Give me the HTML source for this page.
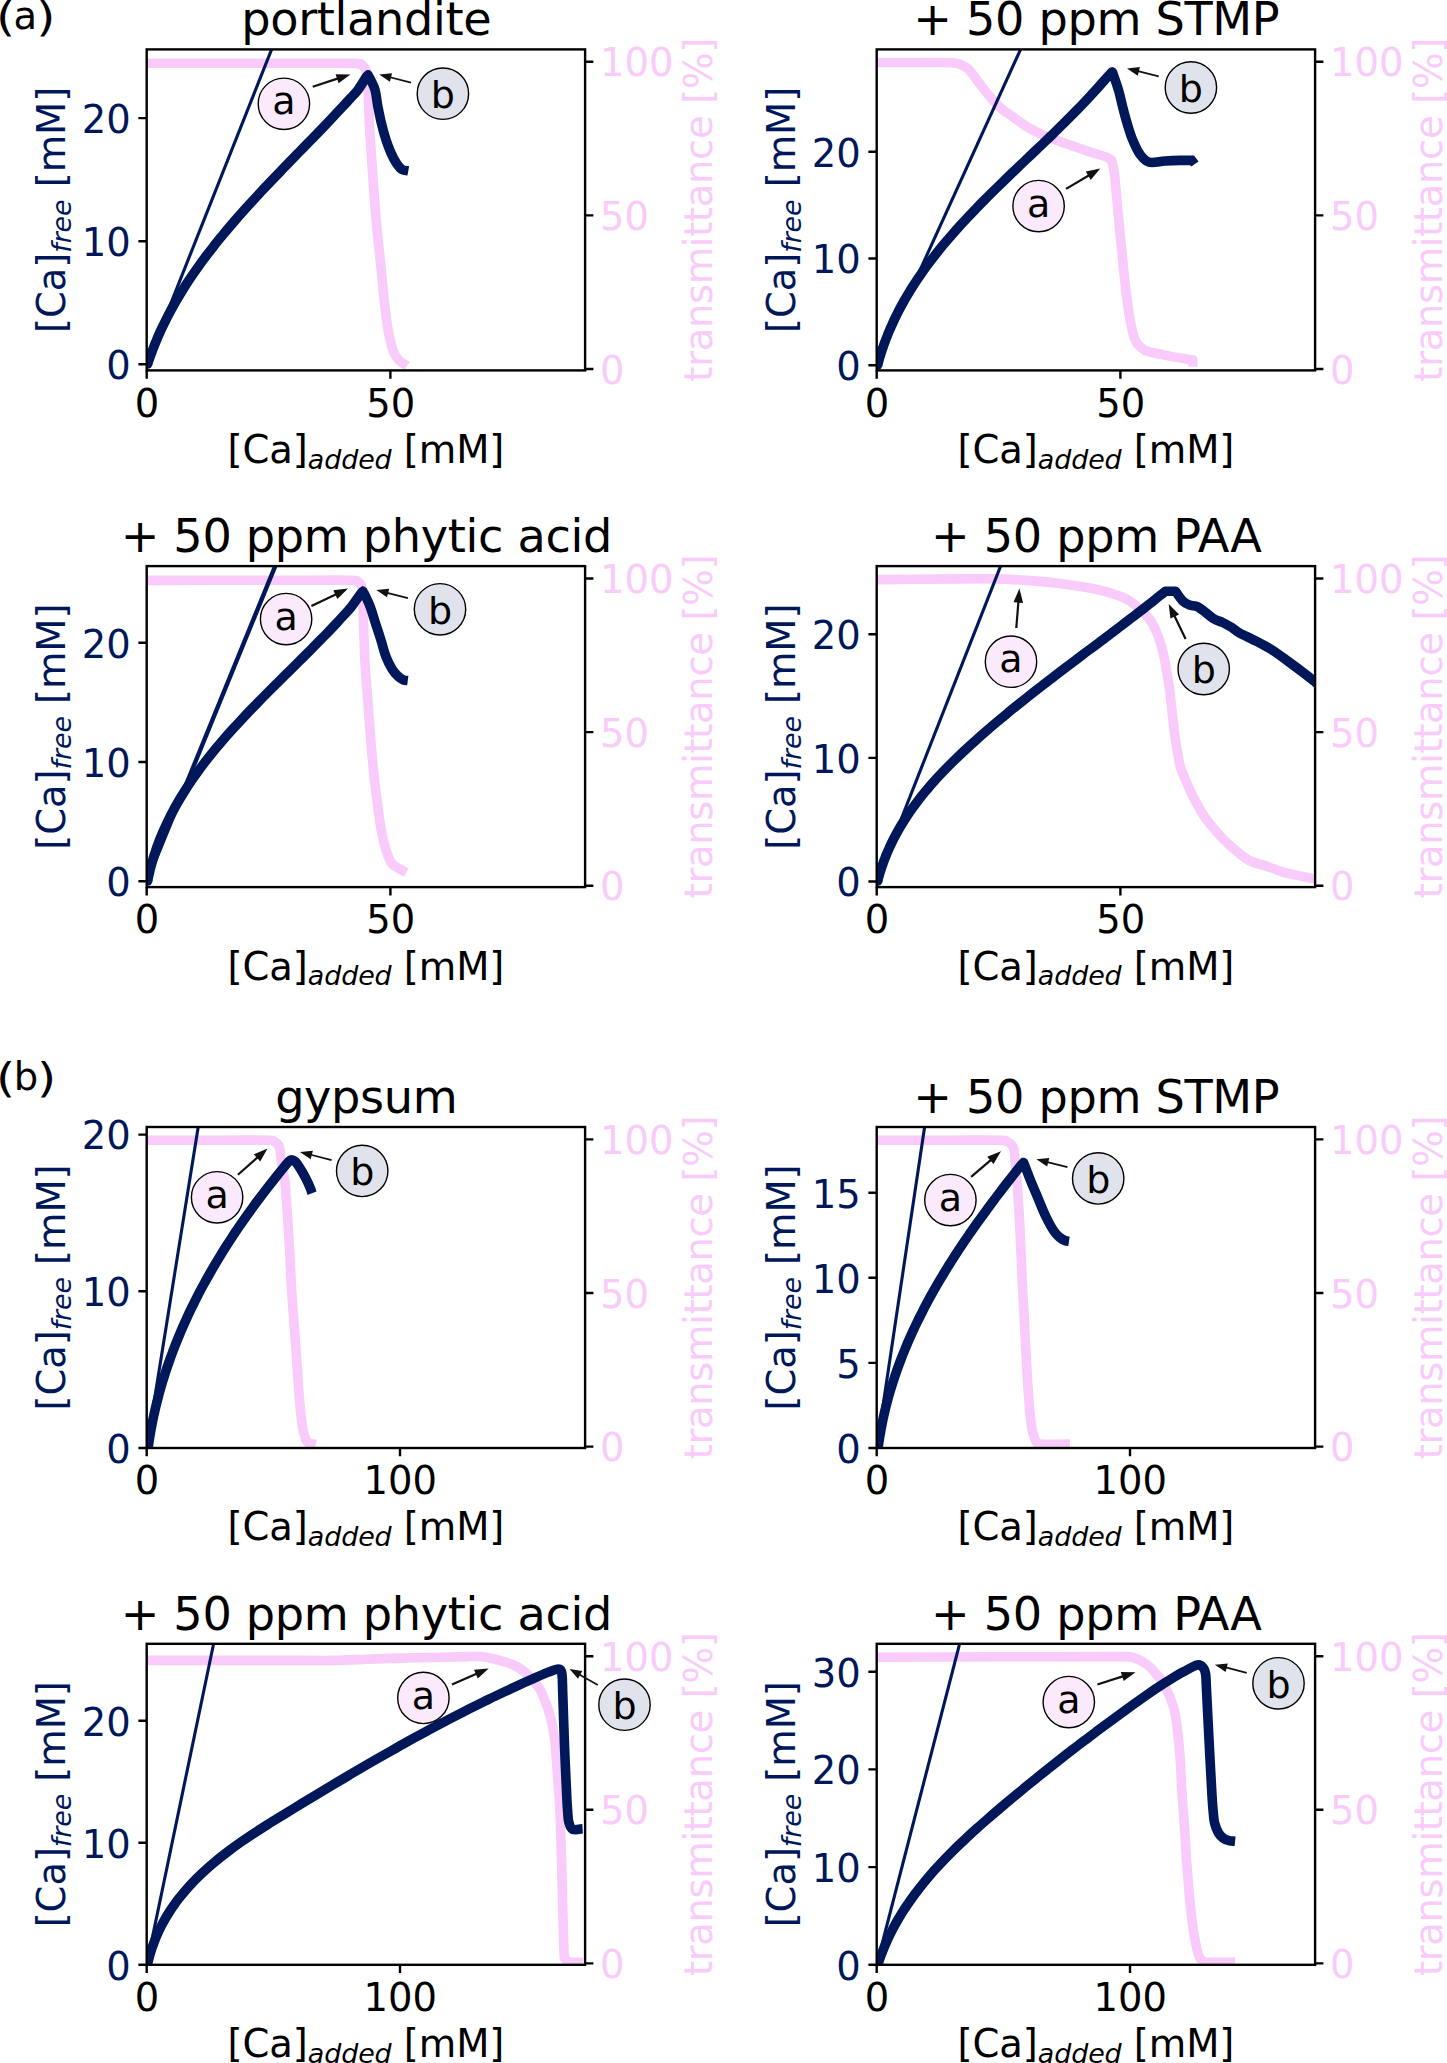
<!DOCTYPE html>
<html lang="en"><head><meta charset="utf-8"><title>Ca titration figure</title>
<style>html,body{margin:0;padding:0;background:#fff}svg{display:block}text{font-family:"DejaVu Sans","Liberation Sans",sans-serif}.t{font-size:46.2px;letter-spacing:-0.33px}.l{font-size:38.5px;letter-spacing:-0.33px}.k{font-size:38.5px}.m{font-size:38.5px;letter-spacing:-0.08px}</style></head><body>
<svg width="1447" height="2063" viewBox="0 0 1447 2063">
<rect width="1447" height="2063" fill="#fff"/>
<text transform="translate(-3.9 31.2) scale(1.19 1)" font-size="41.3">(</text><text x="13.6" y="29.2" class="k">a</text><text transform="translate(36.2 31.2) scale(1.19 1)" font-size="41.3">)</text>
<text transform="translate(-3.9 1092.3) scale(1.19 1)" font-size="41.3">(</text><text x="13.8" y="1089.9" class="k">b</text><text transform="translate(36.9 1092.3) scale(1.19 1)" font-size="41.3">)</text>
<g>
<clipPath id="c0"><rect x="146.7" y="49.4" width="438.4" height="321"/></clipPath>
<g clip-path="url(#c0)" fill="none" stroke-linejoin="round">
<path d="M146 63.2C171.7 63.2 265.3 63.2 300 63.2C334.7 63.2 343.8 63.1 354 63.4C364.2 63.7 359.5 63.9 361.5 65C363.5 66.1 365 67.5 366 70.2C367 73 367.1 72.7 367.7 81.5C368.2 90.3 368.7 110.5 369.3 122.9C369.9 135.3 370.6 143.2 371.5 156.1C372.4 168.9 373.5 187.2 374.5 200C375.5 212.8 376.3 222.1 377.4 233.2C378.5 244.2 379.8 255.2 380.9 266.3C382 277.4 383.1 289.8 384.1 299.5C385.2 309.2 386.1 317.5 387.2 324.4C388.2 331.3 389.3 336.3 390.4 341C391.5 345.7 392.5 349.4 393.9 352.6C395.3 355.8 396.6 357.9 398.8 360.1C401 362.3 405.7 364.9 407.1 365.9" stroke="#f9cbfa" stroke-width="9.6" stroke-linecap="butt"/>
<line x1="146.7" y1="364.3" x2="271.6" y2="49.4" stroke="#00185a" stroke-width="3.1"/>
<path d="M147.6 364C147.9 363.1 148.8 360.3 149.5 358.4C150.1 356.6 150.8 354.7 151.5 352.9C152.2 351.1 152.9 349.2 153.6 347.4C154.3 345.6 155 343.8 155.8 342C156.5 340.2 157.3 338.4 158 336.6C158.8 334.9 159.6 333.1 160.4 331.3C161.2 329.6 162 327.8 162.9 326.1C163.7 324.3 164.5 322.6 165.4 320.9C166.3 319.2 166.6 318.3 168 315.7C169.4 313.1 171.7 308.8 173.6 305.4C175.5 301.9 177.5 298.6 179.5 295.2C181.6 291.8 183.6 288.5 185.7 285.2C187.9 281.9 190 278.6 192.2 275.4C194.4 272.1 196.7 268.9 199 265.7C201.3 262.5 203.6 259.4 206 256.2C208.3 253.1 210.7 250 213.2 246.9C215.6 243.8 218.1 240.7 220.6 237.6C223.1 234.6 225.6 231.5 228.2 228.5C230.7 225.5 233.3 222.5 235.9 219.5C238.5 216.5 241.1 213.5 243.8 210.5C246.4 207.6 249.1 204.6 251.8 201.7C254.5 198.8 257.2 195.9 259.9 193C262.6 190 265.4 187.1 268.1 184.3C270.8 181.4 273.6 178.5 276.4 175.6C279.1 172.7 281.9 169.9 284.6 167C287.4 164.2 290.2 161.3 293 158.4C295.7 155.6 298.5 152.7 301.3 149.9C304.1 147.1 306.8 144.2 309.6 141.4C312.4 138.5 315.1 135.7 317.9 132.8C320.6 130 323.4 127.1 326.1 124.3C328.8 121.4 331.5 118.6 334.2 115.7C336.9 112.9 339.6 110 342.3 107.1C344.9 104.3 347.6 101.4 350.2 98.5C352.8 95.6 355.3 93.4 358 89.8C360.7 86.2 364.7 79.3 366.4 76.8C368.1 74.3 367.7 75.2 368 74.9C368.2 75.2 368 74.5 369.2 77C370.4 79.5 373.6 84.9 375 89.8C376.4 94.7 376.8 100.8 377.8 106.3C378.9 111.8 380 117.4 381.3 122.9C382.6 128.4 384.3 134.6 385.9 139.5C387.5 144.4 389.1 148.6 390.8 152.5C392.5 156.4 394.4 160.2 396.3 163C398.2 165.8 400 168.3 402 169.6C404 170.9 407.2 170.7 408.3 170.9" stroke="#00185a" stroke-width="9.6" stroke-linecap="butt"/>
<circle cx="147.6" cy="364" r="4.8" fill="#00185a" stroke="none"/>
</g>
<rect x="146.7" y="49.4" width="438.4" height="321" fill="none" stroke="#000" stroke-width="2.4"/>
<path d="M146.7 370.4v8.3M390.4 370.4v8.3M146.7 364.3h-8.3M146.7 241.2h-8.3M146.7 118.1h-8.3M585.1 61.8h8.3M585.1 215.4h8.3M585.1 369h8.3" stroke="#000" stroke-width="2.4" fill="none"/>
<text class="k" x="147" y="416.7" text-anchor="middle">0</text>
<text class="k" x="390.7" y="416.7" text-anchor="middle">50</text>
<text class="k" x="130.7" y="379.1" text-anchor="end" fill="#00185a">0</text>
<text class="k" x="130.7" y="256" text-anchor="end" fill="#00185a">10</text>
<text class="k" x="130.7" y="132.9" text-anchor="end" fill="#00185a">20</text>
<text class="k" x="599.9" y="76.3" fill="#f9cbfa">100</text>
<text class="k" x="599.9" y="229.9" fill="#f9cbfa">50</text>
<text class="k" x="599.9" y="383.5" fill="#f9cbfa">0</text>
<text class="t" x="366.3" y="35.2" text-anchor="middle">portlandite</text>
<text class="m" x="365.9" y="462.8" text-anchor="middle">[Ca]<tspan font-style="italic" font-size="26.9" dy="5.8">added</tspan><tspan dy="-5.8"> [mM]</tspan></text>
<text class="m" transform="translate(65.4 209.9) rotate(-90)" text-anchor="middle" fill="#00185a">[Ca]<tspan font-style="italic" font-size="26.9" dy="5.8">free</tspan><tspan dy="-5.8"> [mM]</tspan></text>
<text class="l" transform="translate(712.1 209.9) rotate(-90)" text-anchor="middle" fill="#f9cbfa">transmittance [%]</text>
<line x1="312.7" y1="86.8" x2="339" y2="78.1" stroke="#111" stroke-width="2.2"/><polygon points="350.4,74.4 338.6,83.3 335.6,74.2" fill="#111"/>
<circle cx="283.9" cy="103.8" r="25.7" fill="#fbe9fc" stroke="#000" stroke-width="1.4"/>
<text class="k" style="font-size:38px" x="283.9" y="114.4" text-anchor="middle">a</text>
<line x1="411" y1="82.7" x2="389.1" y2="77" stroke="#111" stroke-width="1.75"/><polygon points="379.2,74.4 392.1,73.2 389.9,81.7" fill="#111"/>
<circle cx="442.9" cy="93.7" r="25.7" fill="#e0e3eb" stroke="#000" stroke-width="1.4"/>
<text class="k" style="font-size:38px" x="442.9" y="108.1" text-anchor="middle">b</text>
</g>
<g>
<clipPath id="c1"><rect x="876.7" y="49.4" width="438.4" height="321"/></clipPath>
<g clip-path="url(#c1)" fill="none" stroke-linejoin="round">
<path d="M876 62.5C886.7 62.5 927 62.4 940 62.5C953 62.6 950.7 62.7 954 63C957.3 63.3 957.6 63.3 960 64.3C962.4 65.3 965.5 66.4 968.3 69C971.1 71.6 973.8 76.2 976.6 79.8C979.4 83.4 982.1 87.1 984.9 90.6C987.7 94 990.4 97.5 993.2 100.5C996 103.5 998.7 106.5 1001.5 108.8C1004.3 111.1 1005.7 111.7 1009.8 114.6C1013.9 117.5 1020.8 122.9 1026.3 126.3C1031.8 129.7 1037.4 132.4 1042.9 134.9C1048.4 137.4 1054 139.2 1059.5 141.2C1065 143.2 1070.6 145.1 1076.1 147C1081.6 148.9 1087.7 151.2 1092.7 152.8C1097.7 154.5 1102.8 155.7 1106 156.9C1109.2 158.2 1110.8 159.7 1111.8 160.3C1112.2 162.4 1113.6 167.9 1114.3 172.7C1115 177.5 1115.5 184.8 1115.9 189.3C1116.4 193.9 1116.3 192.7 1117 200C1117.7 207.3 1119 222.1 1120 233.2C1121 244.2 1122.1 255.2 1123.3 266.3C1124.5 277.4 1125.7 289.8 1127 299.5C1128.3 309.2 1129.6 317.5 1131 324.4C1132.4 331.3 1133.3 336.7 1135.6 341C1137.9 345.3 1139.9 347.8 1144.7 350.1C1149.5 352.5 1158.2 353.7 1164.6 355.1C1171 356.5 1178.2 357.6 1182.9 358.4C1187.6 359.2 1191.2 359.8 1192.8 360.1C1192.8 361.2 1192.7 365.5 1192.7 366.6" stroke="#f9cbfa" stroke-width="9.6" stroke-linecap="butt"/>
<line x1="876.7" y1="365.2" x2="1020.6" y2="49.4" stroke="#00185a" stroke-width="3.1"/>
<path d="M877.6 365C877.9 364 878.7 361.1 879.2 359.2C879.8 357.2 880.4 355.3 881 353.4C881.6 351.5 882.2 349.6 882.9 347.7C883.5 345.8 884.2 343.9 884.9 342.1C885.5 340.2 886.2 338.4 887 336.5C887.7 334.7 888.4 332.9 889.2 331C890 329.2 890.8 327.4 891.6 325.6C892.4 323.8 893.2 322.1 894 320.3C894.8 318.5 895.2 317.6 896.6 315C897.9 312.3 900.2 307.9 902.1 304.4C904 300.9 906 297.4 908.1 294C910.1 290.6 912.2 287.2 914.4 283.9C916.6 280.5 918.8 277.2 921.1 274C923.4 270.7 925.7 267.4 928.1 264.2C930.5 261 932.9 257.8 935.4 254.7C937.9 251.5 940.4 248.4 942.9 245.3C945.5 242.2 948.1 239.2 950.8 236.1C953.4 233.1 956.1 230 958.8 227C961.5 224 964.3 221.1 967 218.1C969.8 215.1 972.6 212.2 975.4 209.3C978.3 206.3 981.1 203.4 984 200.5C986.9 197.6 989.7 194.8 992.6 191.9C995.5 189 998.5 186.2 1001.4 183.3C1004.3 180.5 1007.3 177.6 1010.2 174.8C1013.1 172 1016.1 169.2 1019 166.3C1022 163.5 1025 160.7 1027.9 157.9C1030.9 155.1 1033.8 152.3 1036.7 149.5C1039.7 146.7 1042.6 143.9 1045.5 141.1C1048.5 138.3 1051.4 135.4 1054.3 132.6C1057.2 129.8 1060.1 127 1062.9 124.2C1065.8 121.3 1068.6 118.5 1071.4 115.7C1074.2 112.8 1077 110 1079.8 107.1C1082.6 104.3 1085.3 101.4 1088 98.5C1090.7 95.6 1092.3 93.9 1096 89.8C1099.7 85.7 1107.6 76.6 1110.3 73.7C1113 70.8 1112 72.4 1112.3 72.1C1112.5 72.5 1112.2 71.3 1113.2 74.3C1114.2 77.2 1116.9 84.5 1118.4 89.8C1120 95.1 1121.1 100.8 1122.5 106.3C1123.9 111.8 1125.3 117.4 1127 122.9C1128.7 128.4 1130.3 134.2 1132.5 139.5C1134.7 144.8 1137.2 150.6 1140 154.4C1142.8 158.2 1144.9 161.1 1149.1 162.2C1153.3 163.3 1159.8 161.3 1165 161C1170.2 160.7 1175.4 160.5 1180 160.4C1184.6 160.3 1190.7 160.4 1192.8 160.4" stroke="#00185a" stroke-width="9.6" stroke-linecap="butt"/>
<polygon points="1192.3,155.6 1194,155.4 1198.6,161.5 1191.2,166.6 1190.2,165.2" fill="#00185a"/>
<circle cx="877.6" cy="365" r="4.8" fill="#00185a" stroke="none"/>
</g>
<rect x="876.7" y="49.4" width="438.4" height="321" fill="none" stroke="#000" stroke-width="2.4"/>
<path d="M876.7 370.4v8.3M1120.4 370.4v8.3M876.7 365.2h-8.3M876.7 258.5h-8.3M876.7 151.8h-8.3M1315.1 61.8h8.3M1315.1 215.4h8.3M1315.1 369h8.3" stroke="#000" stroke-width="2.4" fill="none"/>
<text class="k" x="877" y="416.7" text-anchor="middle">0</text>
<text class="k" x="1120.7" y="416.7" text-anchor="middle">50</text>
<text class="k" x="860.7" y="380" text-anchor="end" fill="#00185a">0</text>
<text class="k" x="860.7" y="273.3" text-anchor="end" fill="#00185a">10</text>
<text class="k" x="860.7" y="166.6" text-anchor="end" fill="#00185a">20</text>
<text class="k" x="1329.9" y="76.3" fill="#f9cbfa">100</text>
<text class="k" x="1329.9" y="229.9" fill="#f9cbfa">50</text>
<text class="k" x="1329.9" y="383.5" fill="#f9cbfa">0</text>
<text class="t" x="1096.3" y="35.2" text-anchor="middle">+ 50 ppm STMP</text>
<text class="m" x="1095.9" y="462.8" text-anchor="middle">[Ca]<tspan font-style="italic" font-size="26.9" dy="5.8">added</tspan><tspan dy="-5.8"> [mM]</tspan></text>
<text class="m" transform="translate(795.4 209.9) rotate(-90)" text-anchor="middle" fill="#00185a">[Ca]<tspan font-style="italic" font-size="26.9" dy="5.8">free</tspan><tspan dy="-5.8"> [mM]</tspan></text>
<text class="l" transform="translate(1442.1 209.9) rotate(-90)" text-anchor="middle" fill="#f9cbfa">transmittance [%]</text>
<line x1="1066" y1="188.9" x2="1090" y2="174.7" stroke="#111" stroke-width="2.2"/><polygon points="1100.3,168.6 1090.7,179.9 1085.8,171.6" fill="#111"/>
<circle cx="1038.6" cy="206.1" r="25.7" fill="#fbe9fc" stroke="#000" stroke-width="1.4"/>
<text class="k" style="font-size:38px" x="1038.6" y="216.7" text-anchor="middle">a</text>
<line x1="1158.7" y1="76.3" x2="1136.9" y2="70.9" stroke="#111" stroke-width="1.75"/><polygon points="1127,68.5 1139.9,67.1 1137.8,75.7" fill="#111"/>
<circle cx="1190.9" cy="87.5" r="25.7" fill="#e0e3eb" stroke="#000" stroke-width="1.4"/>
<text class="k" style="font-size:38px" x="1190.9" y="101.9" text-anchor="middle">b</text>
</g>
<g>
<clipPath id="c2"><rect x="146.7" y="566.1" width="438.4" height="321"/></clipPath>
<g clip-path="url(#c2)" fill="none" stroke-linejoin="round">
<path d="M146 580.4C171.7 580.4 265.9 580.2 300 580.2C334.1 580.2 340.9 580 350.5 580.2C360.1 580.4 355.6 580.6 357.5 581.6C359.4 582.6 360.7 583.7 361.6 586.5C362.5 589.3 362.2 586.8 362.7 598.5C363.2 610.2 364 641.3 364.7 656.5C365.4 671.7 366.2 679.1 367 689.7C367.8 700.3 368.4 709.9 369.2 720C370 730.1 370.7 739.7 371.6 750.2C372.6 760.8 373.6 772.2 374.9 783.3C376.1 794.3 378 808.2 379.1 816.5C380.2 824.8 380.7 827.6 381.8 833.1C382.9 838.6 384.3 844.7 385.9 849.7C387.5 854.7 389.4 860 391.4 863C393.4 866 395.5 866.3 398 867.9C400.5 869.5 404.9 871.8 406.3 872.6" stroke="#f9cbfa" stroke-width="9.6" stroke-linecap="butt"/>
<line x1="146.7" y1="881.2" x2="275.2" y2="566.1" stroke="#00185a" stroke-width="4.4"/>
<path d="M147.6 881C147.8 880 148.4 877.1 148.8 875.2C149.3 873.3 149.7 871.3 150.2 869.4C150.7 867.5 151.2 865.6 151.7 863.8C152.2 861.9 152.8 860 153.3 858.1C153.9 856.3 154.5 854.4 155.1 852.6C155.7 850.8 156.3 848.9 156.9 847.1C157.6 845.3 158.3 843.5 158.9 841.7C159.6 839.9 160.3 838.1 161.1 836.4C161.8 834.6 162.1 833.7 163.3 831.1C164.5 828.4 166.5 824 168.2 820.5C169.9 817 171.6 813.6 173.5 810.1C175.3 806.7 177.2 803.4 179.2 800C181.1 796.7 183.2 793.4 185.3 790.1C187.4 786.8 189.5 783.6 191.7 780.4C193.9 777.1 196.2 774 198.5 770.8C200.8 767.7 203.1 764.5 205.5 761.4C207.9 758.4 210.3 755.3 212.8 752.2C215.3 749.2 217.8 746.2 220.4 743.2C222.9 740.2 225.5 737.2 228.1 734.2C230.8 731.3 233.4 728.3 236.1 725.4C238.8 722.5 241.5 719.6 244.2 716.7C246.9 713.8 249.7 710.9 252.4 708.1C255.2 705.2 258 702.4 260.8 699.5C263.6 696.7 266.4 693.8 269.2 691C272 688.2 274.8 685.4 277.7 682.6C280.5 679.8 283.3 677 286.1 674.2C289 671.4 291.8 668.6 294.6 665.8C297.4 663 300.2 660.3 303 657.5C305.8 654.7 308.6 651.9 311.4 649.1C314.2 646.3 317 643.5 319.7 640.7C322.4 637.9 325.2 635.1 327.9 632.3C330.6 629.5 333.2 626.7 335.9 623.9C338.5 621.1 341.2 618.2 343.7 615.4C346.3 612.5 348.5 610.5 351.4 606.8C354.3 603.1 359.3 595.7 361.2 593.1C363.1 590.5 362.7 591.6 363 591.3C363.2 591.6 363 590.8 364.2 593.4C365.4 596 368.3 601.8 370.2 606.8C372.1 611.8 373.7 617.8 375.5 623.3C377.3 628.8 379.2 634.4 380.9 639.9C382.6 645.4 384 651.5 385.9 656.5C387.8 661.5 390.4 666.4 392.5 669.8C394.6 673.1 396.5 674.9 398.3 676.6C400.1 678.3 401.6 679.1 403.2 679.8C404.8 680.5 407 680.5 407.8 680.6" stroke="#00185a" stroke-width="9.6" stroke-linecap="butt"/>
<circle cx="147.6" cy="881" r="4.8" fill="#00185a" stroke="none"/>
</g>
<rect x="146.7" y="566.1" width="438.4" height="321" fill="none" stroke="#000" stroke-width="2.4"/>
<path d="M146.7 887.1v8.3M390.4 887.1v8.3M146.7 881.2h-8.3M146.7 762h-8.3M146.7 642.8h-8.3M585.1 578.5h8.3M585.1 732.1h8.3M585.1 885.7h8.3" stroke="#000" stroke-width="2.4" fill="none"/>
<text class="k" x="147" y="933.4" text-anchor="middle">0</text>
<text class="k" x="390.7" y="933.4" text-anchor="middle">50</text>
<text class="k" x="130.7" y="896" text-anchor="end" fill="#00185a">0</text>
<text class="k" x="130.7" y="776.8" text-anchor="end" fill="#00185a">10</text>
<text class="k" x="130.7" y="657.6" text-anchor="end" fill="#00185a">20</text>
<text class="k" x="599.9" y="593" fill="#f9cbfa">100</text>
<text class="k" x="599.9" y="746.6" fill="#f9cbfa">50</text>
<text class="k" x="599.9" y="900.2" fill="#f9cbfa">0</text>
<text class="t" x="366.3" y="551.9" text-anchor="middle">+ 50 ppm phytic acid</text>
<text class="m" x="365.9" y="979.5" text-anchor="middle">[Ca]<tspan font-style="italic" font-size="26.9" dy="5.8">added</tspan><tspan dy="-5.8"> [mM]</tspan></text>
<text class="m" transform="translate(65.4 726.6) rotate(-90)" text-anchor="middle" fill="#00185a">[Ca]<tspan font-style="italic" font-size="26.9" dy="5.8">free</tspan><tspan dy="-5.8"> [mM]</tspan></text>
<text class="l" transform="translate(712.1 726.6) rotate(-90)" text-anchor="middle" fill="#f9cbfa">transmittance [%]</text>
<line x1="311.4" y1="606.1" x2="337.2" y2="593.8" stroke="#111" stroke-width="2.2"/><polygon points="348,588.6 337.4,599 333.3,590.3" fill="#111"/>
<circle cx="286.1" cy="619.1" r="25.7" fill="#fbe9fc" stroke="#000" stroke-width="1.4"/>
<text class="k" style="font-size:38px" x="286.1" y="629.7" text-anchor="middle">a</text>
<line x1="407.9" y1="598.2" x2="386.2" y2="592.6" stroke="#111" stroke-width="1.75"/><polygon points="376.3,590 389.2,588.8 387,597.3" fill="#111"/>
<circle cx="440" cy="609.3" r="25.7" fill="#e0e3eb" stroke="#000" stroke-width="1.4"/>
<text class="k" style="font-size:38px" x="440" y="623.7" text-anchor="middle">b</text>
</g>
<g>
<clipPath id="c3"><rect x="876.7" y="566.1" width="438.4" height="321"/></clipPath>
<g clip-path="url(#c3)" fill="none" stroke-linejoin="round">
<path d="M876 579.6C890 579.5 940.5 579 960 578.9C979.5 578.8 982.2 578.6 993.2 578.9C1004.2 579.1 1015.2 579.6 1026.3 580.4C1037.3 581.2 1048.4 582.1 1059.5 583.5C1070.6 584.9 1084.4 587 1092.7 588.5C1101 590 1103.8 591 1109.3 592.7C1114.8 594.4 1121.8 596.9 1125.9 598.8C1130.1 600.7 1131.4 602.1 1134.2 604.3C1137 606.4 1139.6 608.8 1142.5 611.7C1145.4 614.7 1148.7 617.3 1151.5 622C1154.3 626.7 1157.4 634.1 1159.5 639.9C1161.6 645.6 1162.7 651 1163.9 656.5C1165.2 662 1166 667.6 1167 673.1C1168 678.6 1168.8 684.2 1169.6 689.7C1170.3 695.2 1170.9 701.2 1171.5 706.3C1172.1 711.3 1172.5 715.5 1173 720C1173.5 724.5 1173.9 728.6 1174.6 733.6C1175.3 738.6 1176.1 744.7 1177.1 750.2C1178.1 755.7 1178.8 761.3 1180.4 766.8C1182.1 772.3 1184.6 777.8 1187 783.3C1189.4 788.8 1191.9 794.4 1194.8 799.9C1197.7 805.4 1200.6 811 1204.4 816.5C1208.2 822 1213.3 828.1 1217.7 833.1C1222.1 838.1 1225.8 841.8 1231 846.4C1236.2 851 1243.7 857.3 1249.2 860.5C1254.7 863.7 1259 863.6 1264.2 865.4C1269.5 867.2 1275.2 869.6 1280.7 871.3C1286.2 873 1290.8 874 1297.3 875.4C1303.8 876.8 1316.2 879.1 1320 879.8" stroke="#f9cbfa" stroke-width="9.6" stroke-linecap="butt"/>
<line x1="876.7" y1="881.5" x2="1000.6" y2="566.1" stroke="#00185a" stroke-width="3.1"/>
<path d="M877.6 881.2C877.9 880.1 878.8 876.6 879.5 874.3C880.1 872.1 880.8 869.8 881.6 867.6C882.3 865.4 883.1 863.2 883.9 861C884.7 858.8 885.6 856.7 886.4 854.5C887.3 852.4 888.2 850.3 889.2 848.2C890.1 846.1 891.1 844 892.1 842C893.1 839.9 894.1 837.9 895.2 835.9C896.3 833.9 897.4 831.9 898.5 829.9C899.6 827.9 900.1 826.9 902 824C903.8 821.1 906.9 816.2 909.5 812.3C912.2 808.5 914.9 804.8 917.7 801.1C920.5 797.4 923.5 793.7 926.5 790.2C929.4 786.6 932.5 783.1 935.7 779.6C938.8 776.1 942 772.7 945.3 769.4C948.6 766 951.9 762.7 955.3 759.4C958.7 756.1 962.1 752.8 965.6 749.6C969 746.4 972.6 743.2 976.1 740.1C979.6 736.9 983.2 733.8 986.8 730.7C990.3 727.6 993.9 724.5 997.6 721.4C1001.2 718.4 1004.9 715.4 1008.5 712.3C1012.2 709.3 1015.9 706.3 1019.6 703.4C1023.3 700.4 1027 697.5 1030.7 694.5C1034.5 691.6 1038.2 688.7 1042 685.8C1045.7 682.8 1049.5 680 1053.3 677.1C1057 674.2 1060.8 671.3 1064.6 668.4C1068.4 665.6 1072.2 662.7 1076 659.9C1079.7 657 1083.5 654.2 1087.3 651.3C1091.1 648.5 1094.9 645.6 1098.7 642.8C1102.4 640 1106.2 637.1 1110 634.3C1113.7 631.4 1117.5 628.6 1121.3 625.7C1125 622.9 1128.7 620 1132.5 617.2C1136.2 614.3 1139.9 611.5 1143.6 608.6C1147.3 605.7 1150.9 602.8 1154.6 599.9C1158.2 597 1163.7 592.7 1165.5 591.2C1167.2 591.2 1173.8 591.2 1175.5 591.2C1176.7 592.9 1180.6 598.9 1182.9 601.2C1185.2 603.5 1187 604.2 1189.5 605.1C1192 606 1195 605.5 1197.8 606.8C1200.6 608.1 1203.3 610.8 1206.1 612.9C1208.9 615 1211.6 617.6 1214.4 619.2C1217.2 620.8 1219.9 621.2 1222.7 622.5C1225.5 623.8 1228.2 625.3 1231 627C1233.8 628.7 1235.1 630.4 1239.3 632.8C1243.5 635.1 1250.4 638.2 1255.9 641.1C1261.4 644 1267 646.7 1272.5 650.2C1278 653.7 1283.5 658 1289 662C1294.5 666 1300.4 670.4 1305.6 674.4C1310.8 678.4 1317.6 683.9 1320 685.8" stroke="#00185a" stroke-width="9.6" stroke-linecap="butt"/>
<circle cx="877.6" cy="881.2" r="4.8" fill="#00185a" stroke="none"/>
</g>
<rect x="876.7" y="566.1" width="438.4" height="321" fill="none" stroke="#000" stroke-width="2.4"/>
<path d="M876.7 887.1v8.3M1120.4 887.1v8.3M876.7 881.5h-8.3M876.7 757.9h-8.3M876.7 634.3h-8.3M1315.1 578.5h8.3M1315.1 732.1h8.3M1315.1 885.7h8.3" stroke="#000" stroke-width="2.4" fill="none"/>
<text class="k" x="877" y="933.4" text-anchor="middle">0</text>
<text class="k" x="1120.7" y="933.4" text-anchor="middle">50</text>
<text class="k" x="860.7" y="896.3" text-anchor="end" fill="#00185a">0</text>
<text class="k" x="860.7" y="772.7" text-anchor="end" fill="#00185a">10</text>
<text class="k" x="860.7" y="649.1" text-anchor="end" fill="#00185a">20</text>
<text class="k" x="1329.9" y="593" fill="#f9cbfa">100</text>
<text class="k" x="1329.9" y="746.6" fill="#f9cbfa">50</text>
<text class="k" x="1329.9" y="900.2" fill="#f9cbfa">0</text>
<text class="t" x="1096.3" y="551.9" text-anchor="middle">+ 50 ppm PAA</text>
<text class="m" x="1095.9" y="979.5" text-anchor="middle">[Ca]<tspan font-style="italic" font-size="26.9" dy="5.8">added</tspan><tspan dy="-5.8"> [mM]</tspan></text>
<text class="m" transform="translate(795.4 726.6) rotate(-90)" text-anchor="middle" fill="#00185a">[Ca]<tspan font-style="italic" font-size="26.9" dy="5.8">free</tspan><tspan dy="-5.8"> [mM]</tspan></text>
<text class="l" transform="translate(1442.1 726.6) rotate(-90)" text-anchor="middle" fill="#f9cbfa">transmittance [%]</text>
<line x1="1016.3" y1="628" x2="1018.5" y2="600.6" stroke="#111" stroke-width="2.2"/><polygon points="1019.4,588.6 1023.1,602.9 1013.5,602.2" fill="#111"/>
<circle cx="1011" cy="661.7" r="25.7" fill="#fbe9fc" stroke="#000" stroke-width="1.4"/>
<text class="k" style="font-size:38px" x="1011" y="672.3" text-anchor="middle">a</text>
<line x1="1185.6" y1="639" x2="1173.9" y2="614.7" stroke="#111" stroke-width="2.2"/><polygon points="1168.7,603.9 1179.1,614.4 1170.4,618.6" fill="#111"/>
<circle cx="1203.7" cy="669" r="25.7" fill="#e0e3eb" stroke="#000" stroke-width="1.4"/>
<text class="k" style="font-size:38px" x="1203.7" y="683.4" text-anchor="middle">b</text>
</g>
<g>
<clipPath id="c4"><rect x="146.7" y="1127" width="438.4" height="321"/></clipPath>
<g clip-path="url(#c4)" fill="none" stroke-linejoin="round">
<path d="M146 1140.2C158.3 1140.2 200 1140.2 220 1140.2C240 1140.2 256.9 1140 266 1140.2C275.1 1140.4 272.3 1140.5 274.5 1141.6C276.7 1142.7 278.2 1144.1 279.3 1146.9C280.4 1149.7 280.4 1154.4 281 1158.5C281.6 1162.6 282.3 1167.6 283 1171.7C283.7 1175.8 284.4 1175.8 285.1 1183.3C285.9 1190.8 286.8 1205.4 287.5 1216.5C288.2 1227.6 289 1238.7 289.6 1249.7C290.2 1260.7 290.6 1271.6 291.2 1282.5C291.8 1293.4 292.6 1304.2 293.4 1315.2C294.2 1326.2 295.1 1337.2 295.9 1348.3C296.7 1359.3 297.3 1370.4 298.1 1381.5C298.9 1392.6 300 1406.4 300.9 1414.7C301.8 1423 302.3 1426.7 303.4 1431.3C304.5 1435.9 305.4 1439.9 307.5 1442.1C309.6 1444.2 314.4 1443.8 315.8 1444.2" stroke="#f9cbfa" stroke-width="9.6" stroke-linecap="butt"/>
<line x1="146.7" y1="1448" x2="198.2" y2="1127" stroke="#00185a" stroke-width="3.1"/>
<path d="M147.6 1452C147.7 1451.1 148.1 1448.4 148.3 1446.7C148.5 1444.9 148.8 1443.1 149.1 1441.3C149.3 1439.5 149.6 1437.8 149.9 1436C150.2 1434.2 150.5 1432.5 150.8 1430.7C151.1 1429 151.4 1427.2 151.8 1425.4C152.1 1423.7 152.5 1421.9 152.8 1420.2C153.2 1418.4 153.5 1416.7 153.9 1415C154.3 1413.2 154.7 1411.5 155.1 1409.7C155.5 1408 155.7 1407.2 156.3 1404.5C157 1401.9 158.1 1397.5 159 1394C160 1390.5 161 1387 162 1383.5C163 1380.1 164.1 1376.6 165.2 1373.2C166.3 1369.7 167.5 1366.3 168.7 1362.9C169.9 1359.4 171.1 1356 172.4 1352.6C173.6 1349.2 175 1345.9 176.3 1342.5C177.6 1339.1 179 1335.8 180.4 1332.5C181.8 1329.1 183.3 1325.8 184.8 1322.5C186.3 1319.2 187.8 1315.9 189.3 1312.6C190.9 1309.3 192.5 1306.1 194.1 1302.8C195.7 1299.6 197.4 1296.3 199 1293.1C200.7 1289.9 202.4 1286.7 204.2 1283.5C205.9 1280.3 207.7 1277.1 209.5 1274C211.3 1270.8 213.1 1267.7 215 1264.5C216.8 1261.4 218.7 1258.3 220.6 1255.2C222.5 1252.1 224.4 1249 226.4 1245.9C228.3 1242.9 230.3 1239.8 232.3 1236.8C234.3 1233.7 236.4 1230.7 238.4 1227.7C240.5 1224.7 242.5 1221.7 244.6 1218.7C246.7 1215.7 248.8 1212.8 251 1209.8C253.1 1206.9 255.2 1203.9 257.4 1201C259.6 1198.1 261.8 1195.2 264 1192.3C266.2 1189.4 268.4 1186.6 270.7 1183.7C272.9 1180.9 275.2 1178 277.4 1175.2C279.7 1172.4 282.5 1169 284.3 1166.8C286.1 1164.6 287.2 1163.1 288.4 1161.9C289.6 1160.7 290.3 1159.8 291.4 1159.8C292.5 1159.8 293.9 1160.4 295.2 1161.6C296.5 1162.8 297.4 1164 299.2 1166.8C301 1169.6 304 1174.8 305.9 1178.4C307.8 1182 309.4 1185.9 310.4 1188.4C311.4 1190.9 311.7 1192.4 312 1193.2" stroke="#00185a" stroke-width="9.6" stroke-linecap="butt"/>
<circle cx="147.6" cy="1452" r="4.8" fill="#00185a" stroke="none"/>
</g>
<rect x="146.7" y="1127" width="438.4" height="321" fill="none" stroke="#000" stroke-width="2.4"/>
<path d="M146.7 1448v8.3M400 1448v8.3M146.7 1448h-8.3M146.7 1291.3h-8.3M146.7 1134.6h-8.3M585.1 1139.4h8.3M585.1 1293h8.3M585.1 1446.6h8.3" stroke="#000" stroke-width="2.4" fill="none"/>
<text class="k" x="147" y="1494.3" text-anchor="middle">0</text>
<text class="k" x="400.3" y="1494.3" text-anchor="middle">100</text>
<text class="k" x="130.7" y="1462.8" text-anchor="end" fill="#00185a">0</text>
<text class="k" x="130.7" y="1306.1" text-anchor="end" fill="#00185a">10</text>
<text class="k" x="130.7" y="1149.4" text-anchor="end" fill="#00185a">20</text>
<text class="k" x="599.9" y="1153.9" fill="#f9cbfa">100</text>
<text class="k" x="599.9" y="1307.5" fill="#f9cbfa">50</text>
<text class="k" x="599.9" y="1461.1" fill="#f9cbfa">0</text>
<text class="t" x="366.3" y="1112.8" text-anchor="middle">gypsum</text>
<text class="m" x="365.9" y="1540.4" text-anchor="middle">[Ca]<tspan font-style="italic" font-size="26.9" dy="5.8">added</tspan><tspan dy="-5.8"> [mM]</tspan></text>
<text class="m" transform="translate(65.4 1287.5) rotate(-90)" text-anchor="middle" fill="#00185a">[Ca]<tspan font-style="italic" font-size="26.9" dy="5.8">free</tspan><tspan dy="-5.8"> [mM]</tspan></text>
<text class="l" transform="translate(712.1 1287.5) rotate(-90)" text-anchor="middle" fill="#f9cbfa">transmittance [%]</text>
<line x1="237.9" y1="1174.7" x2="258.5" y2="1156.5" stroke="#111" stroke-width="2.2"/><polygon points="267.5,1148.6 260.2,1161.5 253.8,1154.3" fill="#111"/>
<circle cx="217.1" cy="1197.3" r="25.7" fill="#fbe9fc" stroke="#000" stroke-width="1.4"/>
<text class="k" style="font-size:38px" x="217.1" y="1207.9" text-anchor="middle">a</text>
<line x1="331.6" y1="1160.2" x2="309.9" y2="1154.5" stroke="#111" stroke-width="1.75"/><polygon points="300,1151.9 312.9,1150.7 310.7,1159.3" fill="#111"/>
<circle cx="362.2" cy="1170.9" r="25.7" fill="#e0e3eb" stroke="#000" stroke-width="1.4"/>
<text class="k" style="font-size:38px" x="362.2" y="1185.3" text-anchor="middle">b</text>
</g>
<g>
<clipPath id="c5"><rect x="876.7" y="1127" width="438.4" height="321"/></clipPath>
<g clip-path="url(#c5)" fill="none" stroke-linejoin="round">
<path d="M876 1140.2C888.3 1140.2 929.5 1140.2 950 1140.2C970.5 1140.2 989.4 1139.9 999 1140.2C1008.6 1140.5 1005.3 1140.7 1007.7 1141.9C1010.1 1143.2 1012.3 1144.7 1013.5 1147.7C1014.7 1150.7 1014.5 1154.2 1015.1 1160.1C1015.7 1166 1016.4 1173.9 1017.1 1183.3C1017.8 1192.7 1018.7 1205.4 1019.3 1216.5C1019.9 1227.6 1020.4 1238.7 1020.9 1249.7C1021.4 1260.7 1021.8 1271.6 1022.3 1282.5C1022.8 1293.4 1023.5 1304.2 1024.1 1315.2C1024.7 1326.2 1025.1 1337.2 1025.7 1348.3C1026.3 1359.3 1026.9 1370.4 1027.6 1381.5C1028.3 1392.6 1029.3 1406.4 1030.1 1414.7C1030.9 1423 1031.5 1426.9 1032.5 1431.3C1033.5 1435.7 1034.4 1439.1 1035.9 1441.2C1037.4 1443.3 1035.8 1443.5 1041.5 1444C1047.2 1444.5 1065.2 1444 1069.9 1444" stroke="#f9cbfa" stroke-width="9.6" stroke-linecap="butt"/>
<line x1="876.7" y1="1448" x2="924.6" y2="1127" stroke="#00185a" stroke-width="3.1"/>
<path d="M877.6 1452C877.7 1451.2 878 1448.6 878.2 1446.9C878.5 1445.2 878.7 1443.6 878.9 1441.9C879.2 1440.2 879.4 1438.5 879.7 1436.9C880 1435.2 880.3 1433.5 880.6 1431.9C880.8 1430.2 881.2 1428.5 881.5 1426.9C881.8 1425.2 882.1 1423.6 882.5 1421.9C882.8 1420.3 883.1 1418.6 883.5 1417C883.9 1415.4 884.2 1413.7 884.6 1412.1C885 1410.4 885.2 1409.7 885.8 1407.2C886.4 1404.7 887.5 1400.6 888.4 1397.3C889.3 1394 890.3 1390.7 891.3 1387.4C892.3 1384.2 893.3 1380.9 894.4 1377.7C895.4 1374.5 896.6 1371.3 897.7 1368.1C898.9 1364.9 900.1 1361.7 901.3 1358.5C902.5 1355.3 903.8 1352.1 905.1 1349C906.4 1345.9 907.7 1342.7 909.1 1339.6C910.5 1336.5 911.9 1333.4 913.3 1330.3C914.7 1327.2 916.2 1324.1 917.7 1321C919.2 1318 920.7 1314.9 922.3 1311.9C923.8 1308.8 925.4 1305.8 927 1302.8C928.6 1299.8 930.3 1296.8 931.9 1293.8C933.6 1290.8 935.3 1287.8 937 1284.9C938.7 1281.9 940.5 1278.9 942.3 1276C944 1273.1 945.8 1270.1 947.6 1267.2C949.4 1264.3 951.3 1261.4 953.1 1258.5C955 1255.6 956.8 1252.8 958.7 1249.9C960.6 1247 962.5 1244.2 964.4 1241.3C966.4 1238.5 968.3 1235.7 970.3 1232.8C972.2 1230 974.2 1227.2 976.2 1224.4C978.2 1221.6 980.2 1218.8 982.2 1216.1C984.2 1213.3 986.2 1210.5 988.2 1207.8C990.3 1205 992.3 1202.3 994.4 1199.5C996.4 1196.8 998.5 1194.1 1000.6 1191.4C1002.6 1188.7 1003.3 1187.8 1006.8 1183.3C1010.3 1178.8 1018.8 1167.9 1021.6 1164.5C1024.4 1161.1 1023.1 1163 1023.4 1162.7C1023.6 1163.1 1023.1 1161.5 1024.5 1164.9C1025.9 1168.3 1029.3 1177.5 1031.7 1183.3C1034.1 1189.1 1036.4 1194.4 1038.7 1199.9C1041 1205.4 1043.2 1211.2 1045.8 1216.5C1048.4 1221.8 1051.7 1227.9 1054.1 1231.4C1056.5 1235 1058.4 1236.3 1060.2 1237.8C1062 1239.3 1063.3 1239.9 1064.8 1240.5C1066.3 1241.1 1068.3 1241.2 1069 1241.3" stroke="#00185a" stroke-width="9.6" stroke-linecap="butt"/>
<circle cx="877.6" cy="1452" r="4.8" fill="#00185a" stroke="none"/>
</g>
<rect x="876.7" y="1127" width="438.4" height="321" fill="none" stroke="#000" stroke-width="2.4"/>
<path d="M876.7 1448v8.3M1130 1448v8.3M876.7 1448h-8.3M876.7 1362.9h-8.3M876.7 1277.8h-8.3M876.7 1192.7h-8.3M1315.1 1139.4h8.3M1315.1 1293h8.3M1315.1 1446.6h8.3" stroke="#000" stroke-width="2.4" fill="none"/>
<text class="k" x="877" y="1494.3" text-anchor="middle">0</text>
<text class="k" x="1130.3" y="1494.3" text-anchor="middle">100</text>
<text class="k" x="860.7" y="1462.8" text-anchor="end" fill="#00185a">0</text>
<text class="k" x="860.7" y="1377.7" text-anchor="end" fill="#00185a">5</text>
<text class="k" x="860.7" y="1292.6" text-anchor="end" fill="#00185a">10</text>
<text class="k" x="860.7" y="1207.5" text-anchor="end" fill="#00185a">15</text>
<text class="k" x="1329.9" y="1153.9" fill="#f9cbfa">100</text>
<text class="k" x="1329.9" y="1307.5" fill="#f9cbfa">50</text>
<text class="k" x="1329.9" y="1461.1" fill="#f9cbfa">0</text>
<text class="t" x="1096.3" y="1112.8" text-anchor="middle">+ 50 ppm STMP</text>
<text class="m" x="1095.9" y="1540.4" text-anchor="middle">[Ca]<tspan font-style="italic" font-size="26.9" dy="5.8">added</tspan><tspan dy="-5.8"> [mM]</tspan></text>
<text class="m" transform="translate(795.4 1287.5) rotate(-90)" text-anchor="middle" fill="#00185a">[Ca]<tspan font-style="italic" font-size="26.9" dy="5.8">free</tspan><tspan dy="-5.8"> [mM]</tspan></text>
<text class="l" transform="translate(1442.1 1287.5) rotate(-90)" text-anchor="middle" fill="#f9cbfa">transmittance [%]</text>
<line x1="971.1" y1="1176.9" x2="991.9" y2="1159.1" stroke="#111" stroke-width="2.2"/><polygon points="1001,1151.3 993.5,1164.1 987.2,1156.8" fill="#111"/>
<circle cx="950.4" cy="1200.1" r="25.7" fill="#fbe9fc" stroke="#000" stroke-width="1.4"/>
<text class="k" style="font-size:38px" x="950.4" y="1210.7" text-anchor="middle">a</text>
<line x1="1067.5" y1="1167.2" x2="1046.3" y2="1161.8" stroke="#111" stroke-width="1.75"/><polygon points="1036.4,1159.3 1049.3,1158 1047.1,1166.6" fill="#111"/>
<circle cx="1098.2" cy="1178.4" r="25.7" fill="#e0e3eb" stroke="#000" stroke-width="1.4"/>
<text class="k" style="font-size:38px" x="1098.2" y="1192.8" text-anchor="middle">b</text>
</g>
<g>
<clipPath id="c6"><rect x="146.7" y="1643.8" width="438.4" height="321"/></clipPath>
<g clip-path="url(#c6)" fill="none" stroke-linejoin="round">
<path d="M146 1660.4C171.7 1660.4 268.8 1660.4 300 1660.4C331.2 1660.4 322.1 1660.6 333.2 1660.4C344.2 1660.2 355.2 1659.7 366.3 1659.3C377.4 1658.9 388.4 1658.4 399.5 1658.1C410.6 1657.8 421.6 1657.8 432.7 1657.5C443.8 1657.2 458.2 1656.8 465.9 1656.6C473.6 1656.4 475.1 1656.3 479.1 1656.5C483.1 1656.7 486.5 1657.2 490 1657.9C493.5 1658.6 497 1659.8 500 1660.6C503 1661.4 505.2 1661.9 507.8 1662.8C510.4 1663.7 512.9 1664.6 515.5 1665.9C518.1 1667.2 520.6 1668.8 523.3 1670.9C526 1673 528.8 1675.5 531.5 1678.5C534.2 1681.5 537.6 1685.8 539.6 1688.8C541.6 1691.8 542.1 1693.9 543.2 1696.5C544.3 1699.1 545.3 1701.7 546.3 1704.3C547.3 1706.9 548.2 1709.5 549 1712.1C549.8 1714.7 550.6 1717.2 551.2 1719.8C551.8 1722.4 552.1 1723.7 552.8 1727.6C553.4 1731.5 554.5 1737.9 555.1 1743.1C555.7 1748.3 556 1753.4 556.4 1758.6C556.8 1763.8 557 1768.9 557.4 1774.1C557.8 1779.3 558.2 1784.4 558.6 1789.6C559 1794.8 559.3 1796.2 559.7 1805.2C560.1 1814.2 560.7 1829.1 561.1 1843.8C561.5 1858.5 562 1876.9 562.4 1893.5C562.8 1910.1 563.4 1932.5 563.7 1943.3C564 1954 564.2 1955.5 564.3 1958C565 1958.7 567.8 1961.6 568.5 1962.3C570.9 1962.3 580.6 1962.3 583 1962.3" stroke="#f9cbfa" stroke-width="9.6" stroke-linecap="butt"/>
<line x1="146.7" y1="1964.8" x2="213.6" y2="1643.8" stroke="#00185a" stroke-width="3.1"/>
<path d="M146.8 1968C147.1 1966.6 148 1962.2 148.7 1959.4C149.4 1956.5 150.2 1953.7 151.1 1950.9C151.9 1948.2 152.9 1945.4 153.9 1942.8C154.9 1940.1 155.9 1937.4 157.1 1934.8C158.2 1932.2 159.4 1929.6 160.7 1927.1C162 1924.6 163.3 1922.1 164.7 1919.6C166.1 1917.2 167.6 1914.8 169.1 1912.4C170.6 1910 172.1 1907.7 173.8 1905.4C175.4 1903.1 176.1 1902 178.8 1898.6C181.5 1895.3 186 1889.7 189.9 1885.5C193.7 1881.3 197.8 1877.2 202 1873.3C206.1 1869.3 210.5 1865.5 214.9 1861.8C219.3 1858.1 223.9 1854.6 228.5 1851.1C233.1 1847.6 237.8 1844.2 242.6 1840.9C247.4 1837.6 252.3 1834.4 257.2 1831.2C262.1 1828 267.1 1824.9 272 1821.8C277 1818.7 282 1815.6 287 1812.6C292 1809.5 297 1806.5 302 1803.4C307 1800.4 312 1797.4 317 1794.4C321.9 1791.4 326.9 1788.4 331.9 1785.4C336.9 1782.4 341.9 1779.4 346.9 1776.5C351.9 1773.5 356.9 1770.6 361.9 1767.7C366.9 1764.7 371.9 1761.8 377 1758.9C382 1756 387 1753.2 392.1 1750.3C397.1 1747.5 402.1 1744.6 407.2 1741.8C412.2 1739 417.3 1736.2 422.4 1733.5C427.5 1730.7 432.6 1728 437.7 1725.3C442.8 1722.5 447.9 1719.8 453 1717.2C458.2 1714.5 463.3 1711.9 468.5 1709.3C473.7 1706.7 478.9 1704.1 484.1 1701.5C489.3 1699 494.5 1696.4 499.8 1694C505 1691.5 510.3 1689 515.6 1686.6C520.9 1684.1 526.2 1681.7 531.6 1679.4C536.9 1677 543.7 1674 547.7 1672.4C551.7 1670.8 553.5 1670.1 555.5 1669.6C557.5 1669.1 558.6 1668.9 559.6 1669.3C560.6 1669.7 561.2 1670.5 561.6 1672C562 1673.5 562.1 1674.2 562.3 1678.5C562.5 1682.8 562.5 1686.5 562.9 1697.6C563.3 1708.7 563.9 1729.4 564.5 1745.3C565.1 1761.2 566.1 1782.1 566.6 1793C567.1 1803.9 567.2 1805.8 567.6 1810.6C568 1815.4 567.9 1818.9 568.8 1822C569.6 1825.1 570.4 1828.2 572.7 1829.3C575 1830.4 581 1828.9 582.6 1828.8" stroke="#00185a" stroke-width="9.6" stroke-linecap="butt"/>
<circle cx="146.8" cy="1968" r="4.8" fill="#00185a" stroke="none"/>
</g>
<rect x="146.7" y="1643.8" width="438.4" height="321" fill="none" stroke="#000" stroke-width="2.4"/>
<path d="M146.7 1964.8v8.3M400 1964.8v8.3M146.7 1964.8h-8.3M146.7 1842.8h-8.3M146.7 1720.8h-8.3M585.1 1656.2h8.3M585.1 1809.8h8.3M585.1 1963.4h8.3" stroke="#000" stroke-width="2.4" fill="none"/>
<text class="k" x="147" y="2011.1" text-anchor="middle">0</text>
<text class="k" x="400.3" y="2011.1" text-anchor="middle">100</text>
<text class="k" x="130.7" y="1979.6" text-anchor="end" fill="#00185a">0</text>
<text class="k" x="130.7" y="1857.6" text-anchor="end" fill="#00185a">10</text>
<text class="k" x="130.7" y="1735.6" text-anchor="end" fill="#00185a">20</text>
<text class="k" x="599.9" y="1670.7" fill="#f9cbfa">100</text>
<text class="k" x="599.9" y="1824.3" fill="#f9cbfa">50</text>
<text class="k" x="599.9" y="1977.9" fill="#f9cbfa">0</text>
<text class="t" x="366.3" y="1629.6" text-anchor="middle">+ 50 ppm phytic acid</text>
<text class="m" x="365.9" y="2057.2" text-anchor="middle">[Ca]<tspan font-style="italic" font-size="26.9" dy="5.8">added</tspan><tspan dy="-5.8"> [mM]</tspan></text>
<text class="m" transform="translate(65.4 1804.3) rotate(-90)" text-anchor="middle" fill="#00185a">[Ca]<tspan font-style="italic" font-size="26.9" dy="5.8">free</tspan><tspan dy="-5.8"> [mM]</tspan></text>
<text class="l" transform="translate(712.1 1804.3) rotate(-90)" text-anchor="middle" fill="#f9cbfa">transmittance [%]</text>
<line x1="452" y1="1684.6" x2="477.7" y2="1673.3" stroke="#111" stroke-width="2.2"/><polygon points="488.7,1668.5 477.8,1678.5 474,1669.7" fill="#111"/>
<circle cx="423.4" cy="1697.9" r="25.7" fill="#fbe9fc" stroke="#000" stroke-width="1.4"/>
<text class="k" style="font-size:38px" x="423.4" y="1708.5" text-anchor="middle">a</text>
<line x1="597.8" y1="1684.9" x2="578.4" y2="1674" stroke="#111" stroke-width="1.75"/><polygon points="569.5,1669 582.3,1671.1 578,1678.8" fill="#111"/>
<circle cx="624.5" cy="1704.7" r="25.7" fill="#e0e3eb" stroke="#000" stroke-width="1.4"/>
<text class="k" style="font-size:38px" x="624.5" y="1719.1" text-anchor="middle">b</text>
</g>
<g>
<clipPath id="c7"><rect x="876.7" y="1643.8" width="438.4" height="321"/></clipPath>
<g clip-path="url(#c7)" fill="none" stroke-linejoin="round">
<path d="M876 1657.2C896.7 1657.1 961 1656.9 1000 1656.8C1039 1656.7 1089.3 1656.6 1110 1656.6C1130.7 1656.6 1120.2 1656.5 1124 1656.6C1127.8 1656.7 1129.9 1656.7 1132.7 1657.4C1135.5 1658.1 1138.2 1659.2 1141 1660.7C1143.8 1662.2 1146.5 1664 1149.3 1666.5C1152.1 1669 1154.8 1672.1 1157.6 1675.7C1160.4 1679.3 1163.3 1683 1165.9 1688.1C1168.5 1693.2 1171.5 1700.5 1173.3 1706.3C1175.1 1712.1 1175.5 1714.6 1176.6 1722.9C1177.7 1731.2 1179.1 1744.2 1180 1756.1C1180.9 1767.9 1181.3 1782.2 1182.1 1794C1182.8 1805.8 1183.8 1816.2 1184.5 1827.2C1185.2 1838.2 1185.7 1849.2 1186.5 1860.3C1187.3 1871.3 1188.2 1882.4 1189.2 1893.5C1190.2 1904.6 1191.7 1918.4 1192.8 1926.7C1193.9 1935 1194.6 1938.2 1195.7 1943.3C1196.8 1948.4 1198 1954.2 1199.5 1957.4C1201 1960.6 1203.7 1961.5 1204.5 1962.3C1209.6 1962.3 1230 1962.3 1235.1 1962.3" stroke="#f9cbfa" stroke-width="9.6" stroke-linecap="butt"/>
<line x1="876.7" y1="1964.8" x2="959.6" y2="1643.8" stroke="#00185a" stroke-width="3.1"/>
<path d="M876.8 1968C877.2 1966.8 878.3 1963.1 879.2 1960.6C880 1958.2 880.9 1955.8 881.8 1953.4C882.7 1951.1 883.6 1948.7 884.6 1946.4C885.6 1944 886.6 1941.7 887.6 1939.5C888.7 1937.2 889.8 1934.9 890.9 1932.7C892 1930.5 893.2 1928.3 894.3 1926.1C895.5 1923.9 896.7 1921.7 898 1919.6C899.2 1917.4 900.5 1915.3 901.8 1913.2C903.1 1911.1 903.7 1910.1 905.8 1907C907.9 1903.9 911.5 1898.7 914.5 1894.6C917.5 1890.6 920.6 1886.6 923.8 1882.7C927 1878.8 930.3 1874.9 933.6 1871.1C937 1867.4 940.5 1863.7 944 1860C947.5 1856.3 951.1 1852.7 954.7 1849.1C958.3 1845.6 962 1842 965.8 1838.6C969.5 1835.1 973.3 1831.6 977.1 1828.2C980.9 1824.8 984.8 1821.4 988.7 1818C992.5 1814.7 996.4 1811.3 1000.3 1808C1004.2 1804.7 1008.2 1801.4 1012.1 1798.1C1016 1794.8 1020 1791.6 1023.9 1788.3C1027.9 1785.1 1031.8 1781.9 1035.8 1778.7C1039.8 1775.4 1043.8 1772.2 1047.8 1769.1C1051.8 1765.9 1055.8 1762.7 1059.8 1759.6C1063.8 1756.4 1067.8 1753.3 1071.9 1750.2C1075.9 1747.1 1080 1744 1084 1740.9C1088.1 1737.8 1092.2 1734.8 1096.2 1731.7C1100.3 1728.7 1104.4 1725.6 1108.5 1722.6C1112.6 1719.6 1116.7 1716.6 1120.8 1713.6C1124.9 1710.6 1129 1707.6 1133.1 1704.6C1137.3 1701.6 1141.4 1698.7 1145.5 1695.8C1149.7 1692.9 1153.9 1690 1158.1 1687.2C1162.3 1684.4 1166.5 1681.7 1170.9 1679.1C1175.2 1676.5 1179.5 1673.9 1183.9 1671.6C1188.4 1669.2 1194.2 1665.6 1197.4 1664.9C1200.6 1664.2 1201.6 1666 1203 1667.5C1204.4 1669 1205 1670.3 1205.6 1674C1206.2 1677.7 1205.9 1678.9 1206.5 1689.8C1207.1 1700.7 1208.1 1722.1 1209 1739.5C1209.9 1756.9 1211.2 1782.2 1211.9 1794C1212.6 1805.8 1212.6 1805.8 1213.1 1810.6C1213.5 1815.4 1213.7 1819.3 1214.6 1823C1215.5 1826.7 1217 1830.4 1218.5 1833C1220 1835.6 1221.8 1837.1 1223.5 1838.4C1225.2 1839.7 1227.1 1840.2 1229 1840.7C1230.9 1841.2 1234.1 1841.1 1235.1 1841.2" stroke="#00185a" stroke-width="9.6" stroke-linecap="butt"/>
<circle cx="876.8" cy="1968" r="4.8" fill="#00185a" stroke="none"/>
</g>
<rect x="876.7" y="1643.8" width="438.4" height="321" fill="none" stroke="#000" stroke-width="2.4"/>
<path d="M876.7 1964.8v8.3M1130 1964.8v8.3M876.7 1964.8h-8.3M876.7 1867.1h-8.3M876.7 1769.4h-8.3M876.7 1671.7h-8.3M1315.1 1656.2h8.3M1315.1 1809.8h8.3M1315.1 1963.4h8.3" stroke="#000" stroke-width="2.4" fill="none"/>
<text class="k" x="877" y="2011.1" text-anchor="middle">0</text>
<text class="k" x="1130.3" y="2011.1" text-anchor="middle">100</text>
<text class="k" x="860.7" y="1979.6" text-anchor="end" fill="#00185a">0</text>
<text class="k" x="860.7" y="1881.9" text-anchor="end" fill="#00185a">10</text>
<text class="k" x="860.7" y="1784.2" text-anchor="end" fill="#00185a">20</text>
<text class="k" x="860.7" y="1686.5" text-anchor="end" fill="#00185a">30</text>
<text class="k" x="1329.9" y="1670.7" fill="#f9cbfa">100</text>
<text class="k" x="1329.9" y="1824.3" fill="#f9cbfa">50</text>
<text class="k" x="1329.9" y="1977.9" fill="#f9cbfa">0</text>
<text class="t" x="1096.3" y="1629.6" text-anchor="middle">+ 50 ppm PAA</text>
<text class="m" x="1095.9" y="2057.2" text-anchor="middle">[Ca]<tspan font-style="italic" font-size="26.9" dy="5.8">added</tspan><tspan dy="-5.8"> [mM]</tspan></text>
<text class="m" transform="translate(795.4 1804.3) rotate(-90)" text-anchor="middle" fill="#00185a">[Ca]<tspan font-style="italic" font-size="26.9" dy="5.8">free</tspan><tspan dy="-5.8"> [mM]</tspan></text>
<text class="l" transform="translate(1442.1 1804.3) rotate(-90)" text-anchor="middle" fill="#f9cbfa">transmittance [%]</text>
<line x1="1097.4" y1="1684.5" x2="1124.2" y2="1675.9" stroke="#111" stroke-width="2.2"/><polygon points="1135.6,1672.2 1123.7,1681.1 1120.8,1671.9" fill="#111"/>
<circle cx="1068.8" cy="1702.1" r="25.7" fill="#fbe9fc" stroke="#000" stroke-width="1.4"/>
<text class="k" style="font-size:38px" x="1068.8" y="1712.7" text-anchor="middle">a</text>
<line x1="1246.7" y1="1672.8" x2="1224.8" y2="1667.2" stroke="#111" stroke-width="1.75"/><polygon points="1214.9,1664.7 1227.8,1663.4 1225.6,1672" fill="#111"/>
<circle cx="1278.5" cy="1683.3" r="25.7" fill="#e0e3eb" stroke="#000" stroke-width="1.4"/>
<text class="k" style="font-size:38px" x="1278.5" y="1697.7" text-anchor="middle">b</text>
</g>
</svg></body></html>
